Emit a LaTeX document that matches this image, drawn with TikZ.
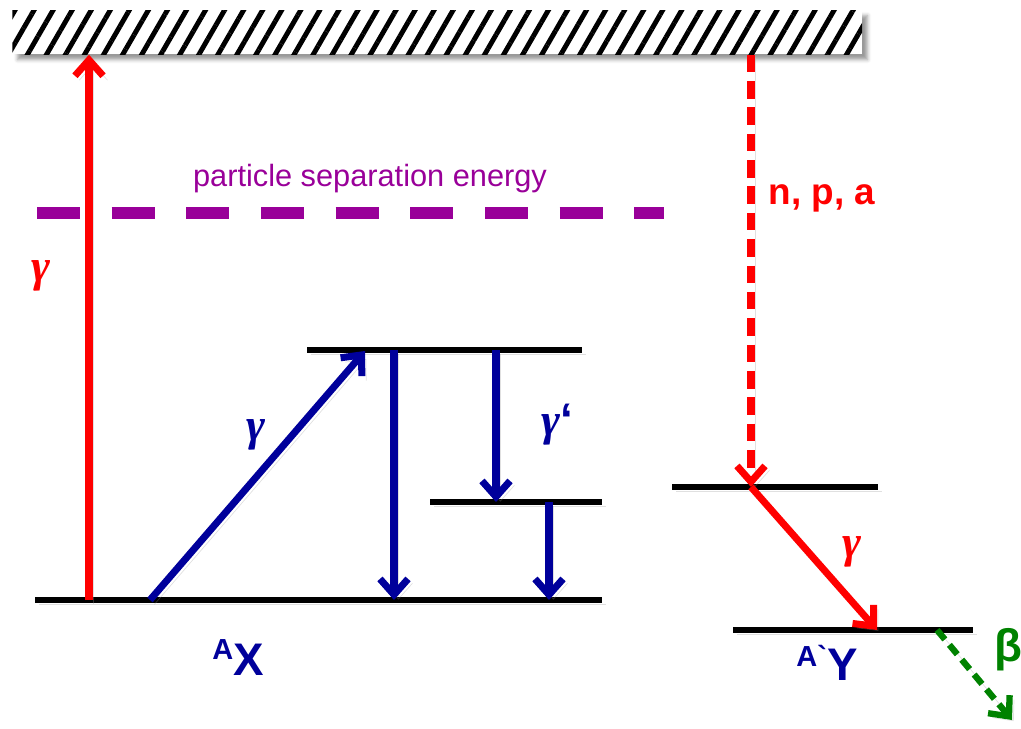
\documentclass[tikz,border=0pt]{standalone}
\usepackage{fontspec}
\setmainfont{Liberation Sans}
\newfontfamily\grfont{Liberation Serif}
\usepackage{xcolor}
\usetikzlibrary{arrows.meta,patterns.meta,shadows.blur}

\definecolor{lvred}{RGB}{255,0,0}
\definecolor{lvblue}{RGB}{0,0,155}
\definecolor{lvpurple}{RGB}{153,0,153}
\definecolor{lvgreen}{RGB}{0,130,0}

\newcommand{\gam}{{\grfont\bfseries\itshape γ}}

\begin{document}
\begin{tikzpicture}[x=0.02cm, y=-0.02cm,
    >={Straight Barb[length=9pt,width=16pt]},
    shadow/.style={preaction={draw=black!40, opacity=0.3, transform canvas={shift={(2.5pt,-2.5pt)}}}},
    level/.style={draw=black, line width=3.4pt, shadow},
    trans/.style={->, line width=4pt, shadow},
    lbl/.style={font=\bfseries\fontsize{26}{26}\selectfont, inner sep=0pt, anchor=base}]
    \useasboundingbox (0,0) rectangle (1021,729);

    % continuum
    \node[fill=white, postaction={pattern={Lines[angle=60,distance=0.33cm,line width=2.8pt]}},
          minimum width=17cm, minimum height=0.88cm, inner sep=0pt, anchor=north west,
          blur shadow={shadow xshift=3pt, shadow yshift=-3pt}] (cont) at (12,10) {};

    % particle separation energy
    \coordinate (s1) at (37,213);
    \coordinate (s2) at (664,213);
    \draw[lvpurple, line width=6.3pt, dash pattern=on 24.5pt off 18pt] (s1) -- (s2);
    \node[lvpurple, font=\fontsize{17.5}{18}\selectfont, inner sep=0pt, anchor=base] (sep) at (370,187) {particle separation energy};

    % levels of A X
    \coordinate (gl) at (35,600);  \coordinate (gr) at (602,600);
    \coordinate (ul) at (307,350); \coordinate (ur) at (582,350);
    \coordinate (ml) at (430,502); \coordinate (mr) at (602,502);
    \draw[level] (gl) -- (gr);
    \draw[level] (ul) -- (ur);
    \draw[level] (ml) -- (mr);

    % levels of A' Y
    \coordinate (yl) at (672,487);  \coordinate (yr) at (878,487);
    \coordinate (zl) at (733,630);  \coordinate (zr) at (973,630);
    \draw[level] (yl) -- (yr);
    \draw[level] (zl) -- (zr);

    % transitions
    \coordinate (g1) at (89,600);
    \coordinate (g2) at (150,600);  \coordinate (u1) at (365,351);
    \coordinate (u2) at (394,350);  \coordinate (g3) at (394,600);
    \coordinate (u3) at (496,350);  \coordinate (m1) at (496,502);
    \coordinate (m2) at (549,502);  \coordinate (g4) at (549,600);
    \coordinate (y1) at (751,487);  \coordinate (z1) at (877,630);
    \coordinate (z2) at (937,630);  \coordinate (b1) at (1012,720);

    \draw[trans, lvred] (g1) -- (cont.south -| g1);
    \draw[trans, lvblue] (g2) -- (u1);
    \draw[trans, lvblue] (u2) -- (g3);
    \draw[trans, lvblue] (u3) -- (m1);
    \draw[trans, lvblue] (m2) -- (g4);
    \draw[trans, lvred, dash pattern=on 10pt off 5pt] (cont.south -| y1) -- (y1);
    \draw[trans, lvred] (y1) -- (z1);
    \draw[trans, lvgreen, line width=3.6pt, dash pattern=on 7pt off 4pt] (z2) -- (b1);

    % labels
    \node[lbl, lvred] (gred) at (41,282) {\gam};
    \node[lbl, lvblue] (gblue) at (256,440) {\gam};
    \node[lbl, lvblue] (gprime) at (557,436) {\gam‘};
    \node[lbl, lvred, font=\bfseries\fontsize{21}{21}\selectfont] (npa) at (822,205) {n, p, a};
    \node[lbl, lvred] (gred2) at (852,557) {\gam};
    \node[lbl, lvgreen, anchor=base west] (beta) at (994,661) {β};
    \node[lbl, lvblue] (ax) at (238,675)
        {\raisebox{9pt}{\fontsize{16.5}{16.5}\selectfont A}X};
    \node[lbl, lvblue] (ay) at (827,680)
        {\raisebox{7.5pt}{\fontsize{16.5}{16.5}\selectfont A\textasciigrave}Y};
\end{tikzpicture}
\end{document}
